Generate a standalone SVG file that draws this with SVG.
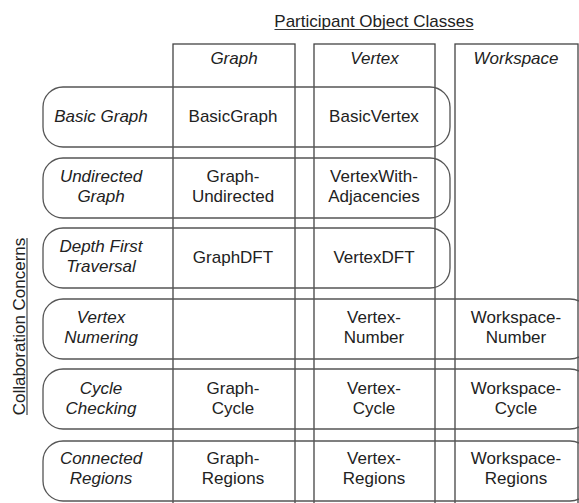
<svg xmlns="http://www.w3.org/2000/svg" width="579" height="503" viewBox="0 0 579 503">
<style>
  text { font-family: "Liberation Sans", Arial, sans-serif; font-size: 17px; fill: #222; text-anchor: middle; }
  .it { font-style: italic; }
  .col { fill: none; stroke: #444; stroke-width: 1.3; }
  .row { fill: none; stroke: #555; stroke-width: 1.3; }
  .ul { stroke: #333; stroke-width: 1.1; }
</style>
<rect width="579" height="503" fill="#fff"/>

<g id="title">
  <text x="374" y="27">Participant Object Classes</text>
  <line class="ul" x1="274.5" y1="29.5" x2="473.5" y2="29.5"/>
</g>

<g id="side-title">
  <text transform="translate(24.5,326.5) rotate(-90)">Collaboration Concerns</text>
  <line class="ul" x1="27" y1="238" x2="27" y2="415"/>
</g>

<g id="col-graph">
  <rect class="col" x="173" y="44" width="122" height="480"/>
  <text class="it" x="234" y="64">Graph</text>
</g>
<g id="col-vertex">
  <rect class="col" x="314" y="44" width="121" height="480"/>
  <text class="it" x="374.5" y="64">Vertex</text>
</g>
<g id="col-workspace">
  <rect class="col" x="455" y="44" width="123" height="480"/>
  <text class="it" x="516" y="64">Workspace</text>
</g>

<g id="row-basic-graph">
  <rect class="row" x="43" y="87" width="407" height="60" rx="20" ry="20"/>
  <text class="it" x="101" y="122">Basic Graph</text>
  <text x="233" y="122">BasicGraph</text>
  <text x="374" y="122">BasicVertex</text>
</g>

<g id="row-undirected-graph">
  <rect class="row" x="43" y="158" width="407" height="60" rx="20" ry="20"/>
  <text class="it" x="101" y="182">Undirected</text>
  <text class="it" x="101" y="202">Graph</text>
  <text x="233" y="182">Graph-</text>
  <text x="233" y="202">Undirected</text>
  <text x="374" y="182">VertexWith-</text>
  <text x="374" y="202">Adjacencies</text>
</g>

<g id="row-depth-first-traversal">
  <rect class="row" x="43" y="228" width="407" height="60" rx="20" ry="20"/>
  <text class="it" x="101" y="252">Depth First</text>
  <text class="it" x="101" y="272">Traversal</text>
  <text x="233" y="263">GraphDFT</text>
  <text x="374" y="263">VertexDFT</text>
</g>

<g id="row-vertex-numbering">
  <rect class="row" x="43" y="299" width="547" height="60" rx="20" ry="20"/>
  <text class="it" x="101" y="323">Vertex</text>
  <text class="it" x="101" y="343">Numering</text>
  <text x="374" y="323">Vertex-</text>
  <text x="374" y="343">Number</text>
  <text x="516" y="323">Workspace-</text>
  <text x="516" y="343">Number</text>
</g>

<g id="row-cycle-checking">
  <rect class="row" x="43" y="369" width="547" height="60" rx="20" ry="20"/>
  <text class="it" x="101" y="394">Cycle</text>
  <text class="it" x="101" y="414">Checking</text>
  <text x="233" y="394">Graph-</text>
  <text x="233" y="414">Cycle</text>
  <text x="374" y="394">Vertex-</text>
  <text x="374" y="414">Cycle</text>
  <text x="516" y="394">Workspace-</text>
  <text x="516" y="414">Cycle</text>
</g>

<g id="row-connected-regions">
  <rect class="row" x="43" y="441" width="547" height="60" rx="20" ry="20"/>
  <text class="it" x="101" y="464">Connected</text>
  <text class="it" x="101" y="484">Regions</text>
  <text x="233" y="464">Graph-</text>
  <text x="233" y="484">Regions</text>
  <text x="374" y="464">Vertex-</text>
  <text x="374" y="484">Regions</text>
  <text x="516" y="464">Workspace-</text>
  <text x="516" y="484">Regions</text>
</g>

<g id="connectors"></g>
</svg>
